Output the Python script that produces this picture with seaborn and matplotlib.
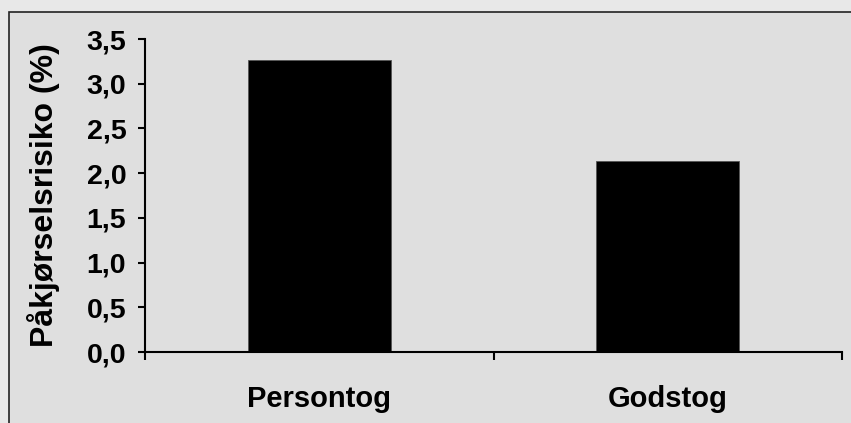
import matplotlib
matplotlib.use("Agg")
import matplotlib.pyplot as plt
import seaborn as sns
from matplotlib.patches import Rectangle
from matplotlib.ticker import FixedLocator, FuncFormatter

categories = ["Persontog", "Godstog"]
risk = [3.27, 2.14]
yticks = [0.0, 0.5, 1.0, 1.5, 2.0, 2.5, 3.0, 3.5]

sns.set_style("ticks")
plt.rcParams["font.family"] = ["Liberation Sans", "DejaVu Sans"]
plt.rcParams["font.weight"] = "bold"
for k in ["text.color", "axes.labelcolor", "xtick.color", "ytick.color"]:
    plt.rcParams[k] = "black"

W, H = 851, 423
fig = plt.figure(figsize=(W / 100, H / 100), dpi=100)
fig.patch.set_facecolor("#e8e8e8")
# outer frame of the chart area (runs off the right and bottom edge)
fig.patches.append(Rectangle((9 / W, -0.2), 1.2, (H - 12) / H + 0.2,
                             transform=fig.transFigure, facecolor="#dfdfdf",
                             edgecolor="#222222", lw=1.2, zorder=-10))

ax = fig.add_axes([145 / W, (H - 352) / H, (842 - 145) / W, (352 - 39) / H])
ax.set_facecolor("none")

sns.barplot(x=categories, y=risk, color="black", saturation=1, width=0.41,
            edgecolor="#555555", linewidth=0.6, ax=ax)

ax.set_xlim(-0.5, 1.5)
ax.set_ylim(0, 3.5)
ax.set_yticks(yticks)
ax.yaxis.set_major_formatter(FuncFormatter(lambda v, p: f"{v:.1f}".replace(".", ",")))

ax.xaxis.set_minor_locator(FixedLocator([-0.5, 0.5, 1.5]))
ax.tick_params(axis="x", which="major", length=0, pad=24, labelsize=21)
ax.tick_params(axis="x", which="minor", length=6, width=1.5, direction="out", color="black")
ax.tick_params(axis="y", length=5, width=1.5, direction="out", color="black",
               pad=8.5, labelsize=20.5)
for lab in ax.get_xticklabels() + ax.get_yticklabels():
    lab.set_fontweight("bold")

for s in ["top", "right"]:
    ax.spines[s].set_visible(False)
for s in ["left", "bottom"]:
    ax.spines[s].set_linewidth(1.5)
    ax.spines[s].set_color("black")

ax.set_xlabel("")
ax.set_ylabel("Påkjørselsrisiko (%)", fontsize=23, fontweight="bold")
ax.yaxis.set_label_coords(-0.122, 0.5)

fig.savefig("out.png", dpi=100, facecolor=fig.get_facecolor())
